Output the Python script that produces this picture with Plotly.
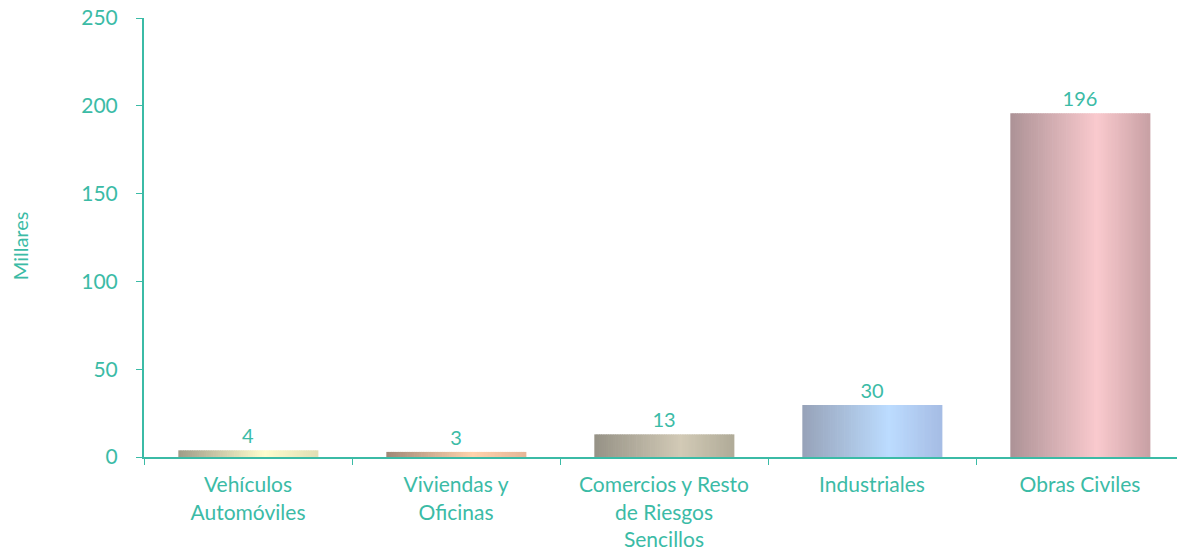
import plotly.graph_objects as go

categories = ["Vehículos<br>Automóviles", "Viviendas y<br>Oficinas",
              "Comercios y Resto<br>de Riesgos<br>Sencillos", "Industriales", "Obras Civiles"]
values = [3.8, 2.9, 12.9, 29.6, 195.8]
y_ticks = [0, 50, 100, 150, 200, 250]

# gradient stops per bar: (left, centre, right)
stops = [
    ((160, 156, 136), (255, 253, 205), (225, 222, 180)),
    ((160, 136, 120), (255, 210, 172), (230, 182, 152)),
    ((150, 146, 134), (210, 202, 182), (176, 171, 152)),
    ((150, 162, 184), (188, 220, 255), (166, 188, 228)),
    ((172, 146, 150), (250, 202, 206), (200, 160, 164)),
]
TEAL = "#3bbba6"
W = 0.67
N = 60


def lerp(a, b, t):
    return tuple(round(a[i] + (b[i] - a[i]) * t) for i in range(3))


def color_at(s, t):
    c = 0.62
    if t <= c:
        rgb = lerp(s[0], s[1], t / c)
    else:
        rgb = lerp(s[1], s[2], (t - c) / (1 - c))
    return "rgb(%d,%d,%d)" % rgb


fig = go.Figure()
for i in range(N):
    t = (i + 0.5) / N
    fig.add_trace(go.Bar(
        x=categories, y=values,
        width=W / N * 1.3, offset=-W / 2 + i * W / N,
        marker=dict(color=[color_at(s, t) for s in stops], line=dict(width=0)),
        hoverinfo="skip", showlegend=False,
    ))

fig.add_trace(go.Bar(
    x=categories, y=values, width=W,
    marker=dict(color="rgba(0,0,0,0)", line=dict(width=0)),
    text=[f"{v:.0f}" for v in values], textposition="outside",
    textfont=dict(color=TEAL, size=20, family="Lato"),
    cliponaxis=False, showlegend=False,
))

fig.update_layout(
    barmode="overlay",
    width=1177, height=555,
    margin=dict(l=144, r=0, t=18, b=98),
    paper_bgcolor="white", plot_bgcolor="white",
    font=dict(family="Lato", color=TEAL, size=20),
    showlegend=False,
)
fig.update_xaxes(
    automargin=False,
    range=[-0.5, -0.5 + 1033 / 208],
    showline=True, linecolor=TEAL, linewidth=2,
    ticks="outside", tickson="boundaries", ticklen=6, tickcolor=TEAL,
    showgrid=False, tickfont=dict(size=21, color=TEAL),
    ticklabelstandoff=8,
)
fig.update_yaxes(
    automargin=False,
    range=[0, 250], tickvals=y_ticks,
    showline=True, linecolor=TEAL, linewidth=2,
    ticks="outside", ticklen=6, tickcolor=TEAL,
    showgrid=False, zeroline=False,
    tickfont=dict(size=21, color=TEAL),
    ticklabelstandoff=14,
)
fig.add_annotation(
    text="Millares", textangle=-90, showarrow=False,
    xref="paper", yref="paper", x=(20 - 144) / 1033, y=0.48,
    xanchor="center", yanchor="middle",
    font=dict(size=20, color=TEAL, family="Lato"),
)

fig.write_html("out.html", config={"displayModeBar": False},
               post_script="document.body.style.margin='0';")
